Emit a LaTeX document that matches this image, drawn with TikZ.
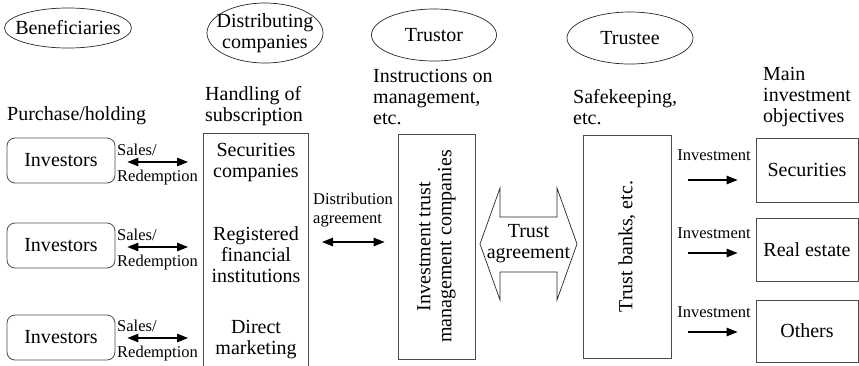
\documentclass[tikz,border=0pt]{standalone}
\usepackage{fontspec}
\setmainfont{Liberation Serif}
\usetikzlibrary{arrows.meta,shapes.geometric}
\begin{document}
\begin{tikzpicture}[x=1pt,y=-1pt,
  txt/.style={font=\fontsize{20}{21}\selectfont, inner sep=0pt, align=left},
  ctxt/.style={txt, align=center},
  lbl/.style={font=\fontsize{16.5}{19}\selectfont, inner sep=0pt, align=left},
  oval/.style={ellipse, draw=black!85, line width=0.7pt, inner sep=0pt},
  rbox/.style={draw=black!70, line width=0.8pt, rectangle, inner sep=0pt},
  invbox/.style={rbox, rounded corners=8pt, minimum width=108pt, minimum height=45pt},
  outbox/.style={rbox, minimum width=102pt},
  tip/.style={line width=1.2pt, -{Triangle[length=11pt,width=8.5pt]}},
  dtip/.style={line width=1.2pt, {Triangle[length=11pt,width=8.5pt]}-{Triangle[length=11pt,width=8.5pt]}}
]
\useasboundingbox (0,0) rectangle (859,365);

% role ellipses
\node[oval, minimum width=127pt, minimum height=40pt,
      label={[txt]center:Beneficiaries}] (ben) at (68,28) {};
\node[oval, minimum width=116pt, minimum height=60pt,
      label={[ctxt]center:Distributing\\companies}] (dist) at (265,33) {};
\node[oval, minimum width=125pt, minimum height=52pt,
      label={[txt]center:Trustor}] (tor) at (434,35) {};
\node[oval, minimum width=126pt, minimum height=52pt,
      label={[txt]center:Trustee}] (tee) at (630,38) {};

% column headings
\node[txt, anchor=west] (h1) at (7,116) {Purchase/holding};
\node[txt, anchor=west] (h2) at (205,106) {Handling of\\subscription};
\node[txt, anchor=west] (h3) at (373,97) {Instructions on\\management,\\etc.};
\node[txt, anchor=west] (h4) at (573,107) {Safekeeping,\\etc.};
\node[txt, anchor=west] (h5) at (763,97) {Main\\investment\\objectives};

% investors
\node[invbox] (inv1) at (61,160.5) {};
\node[invbox] (inv2) at (61,245.5) {};
\node[invbox] (inv3) at (61,337.5) {};
\node[txt] at (inv1) {Investors};
\node[txt] at (inv2) {Investors};
\node[txt] at (inv3) {Investors};

% distributing companies column (open at the bottom)
\coordinate (dl) at (203,133);
\coordinate (dr) at (308,133);
\draw[draw=black!70, line width=0.8pt] (203,370) -- (dl) -- (dr) -- (308,370);
\node[ctxt] (sec) at (256,163) {Securities\\companies};
\node[ctxt] (reg) at (256,255) {Registered\\financial\\institutions};
\node[ctxt] (dir) at (256,340) {Direct\\marketing};

% sales / redemption
\foreach \r/\a in {1/162, 2/247, 3/338} {
  \draw[dtip, shorten <=12pt, shorten >=15pt] (inv\r.east |- 0,\a) -- (dl |- 0,\a);
  \node[lbl, anchor=west] at (117,\a-12) {Sales/};
  \node[lbl, anchor=west] at (117,\a+16) {Redemption};
}

% investment trust management companies
\node[rbox, minimum width=77pt, minimum height=225pt] (itm) at (436.5,246.5) {};
\node[ctxt, rotate=90] at (itm) {Investment trust\\management companies};

% distribution agreement
\node[lbl, anchor=west] (da) at (313,210) {Distribution\\agreement};
\draw[dtip, shorten <=14pt, shorten >=13pt] (dr |- 0,242) -- (itm.west |- 0,242);

% trustee box
\node[rbox, minimum width=88pt, minimum height=223pt] (tb) at (627,246.5) {};
\node[txt, rotate=90] at (tb) {Trust banks, etc.};

% trust agreement block arrow
\draw[draw=black!85, line width=0.7pt]
  (500,217) -- (500,188) -- (480,244) -- (500,300) -- (500,272) -- (557,272)
  -- (557,300) -- (577,244) -- (557,188) -- (557,217) -- cycle;
\node[ctxt] (ta) at (528.5,244) {Trust\\agreement};

% investment objectives
\node[outbox, minimum height=64pt] (rs) at (807,170) {};
\node[outbox, minimum height=63pt] (rr) at (807,249.5) {};
\node[outbox, minimum height=62pt] (ro) at (807,331) {};
\node[txt] at (rs) {Securities};
\node[txt] at (rr) {Real estate};
\node[txt] at (ro) {Others};

\foreach \b/\a/\l in {rs/180/155, rr/253/233, ro/332/312} {
  \draw[tip, shorten <=17pt, shorten >=18pt] (tb.east |- 0,\a) -- (\b.west |- 0,\a);
  \node[lbl] at (714,\l) {Investment};
}
\end{tikzpicture}
\end{document}
